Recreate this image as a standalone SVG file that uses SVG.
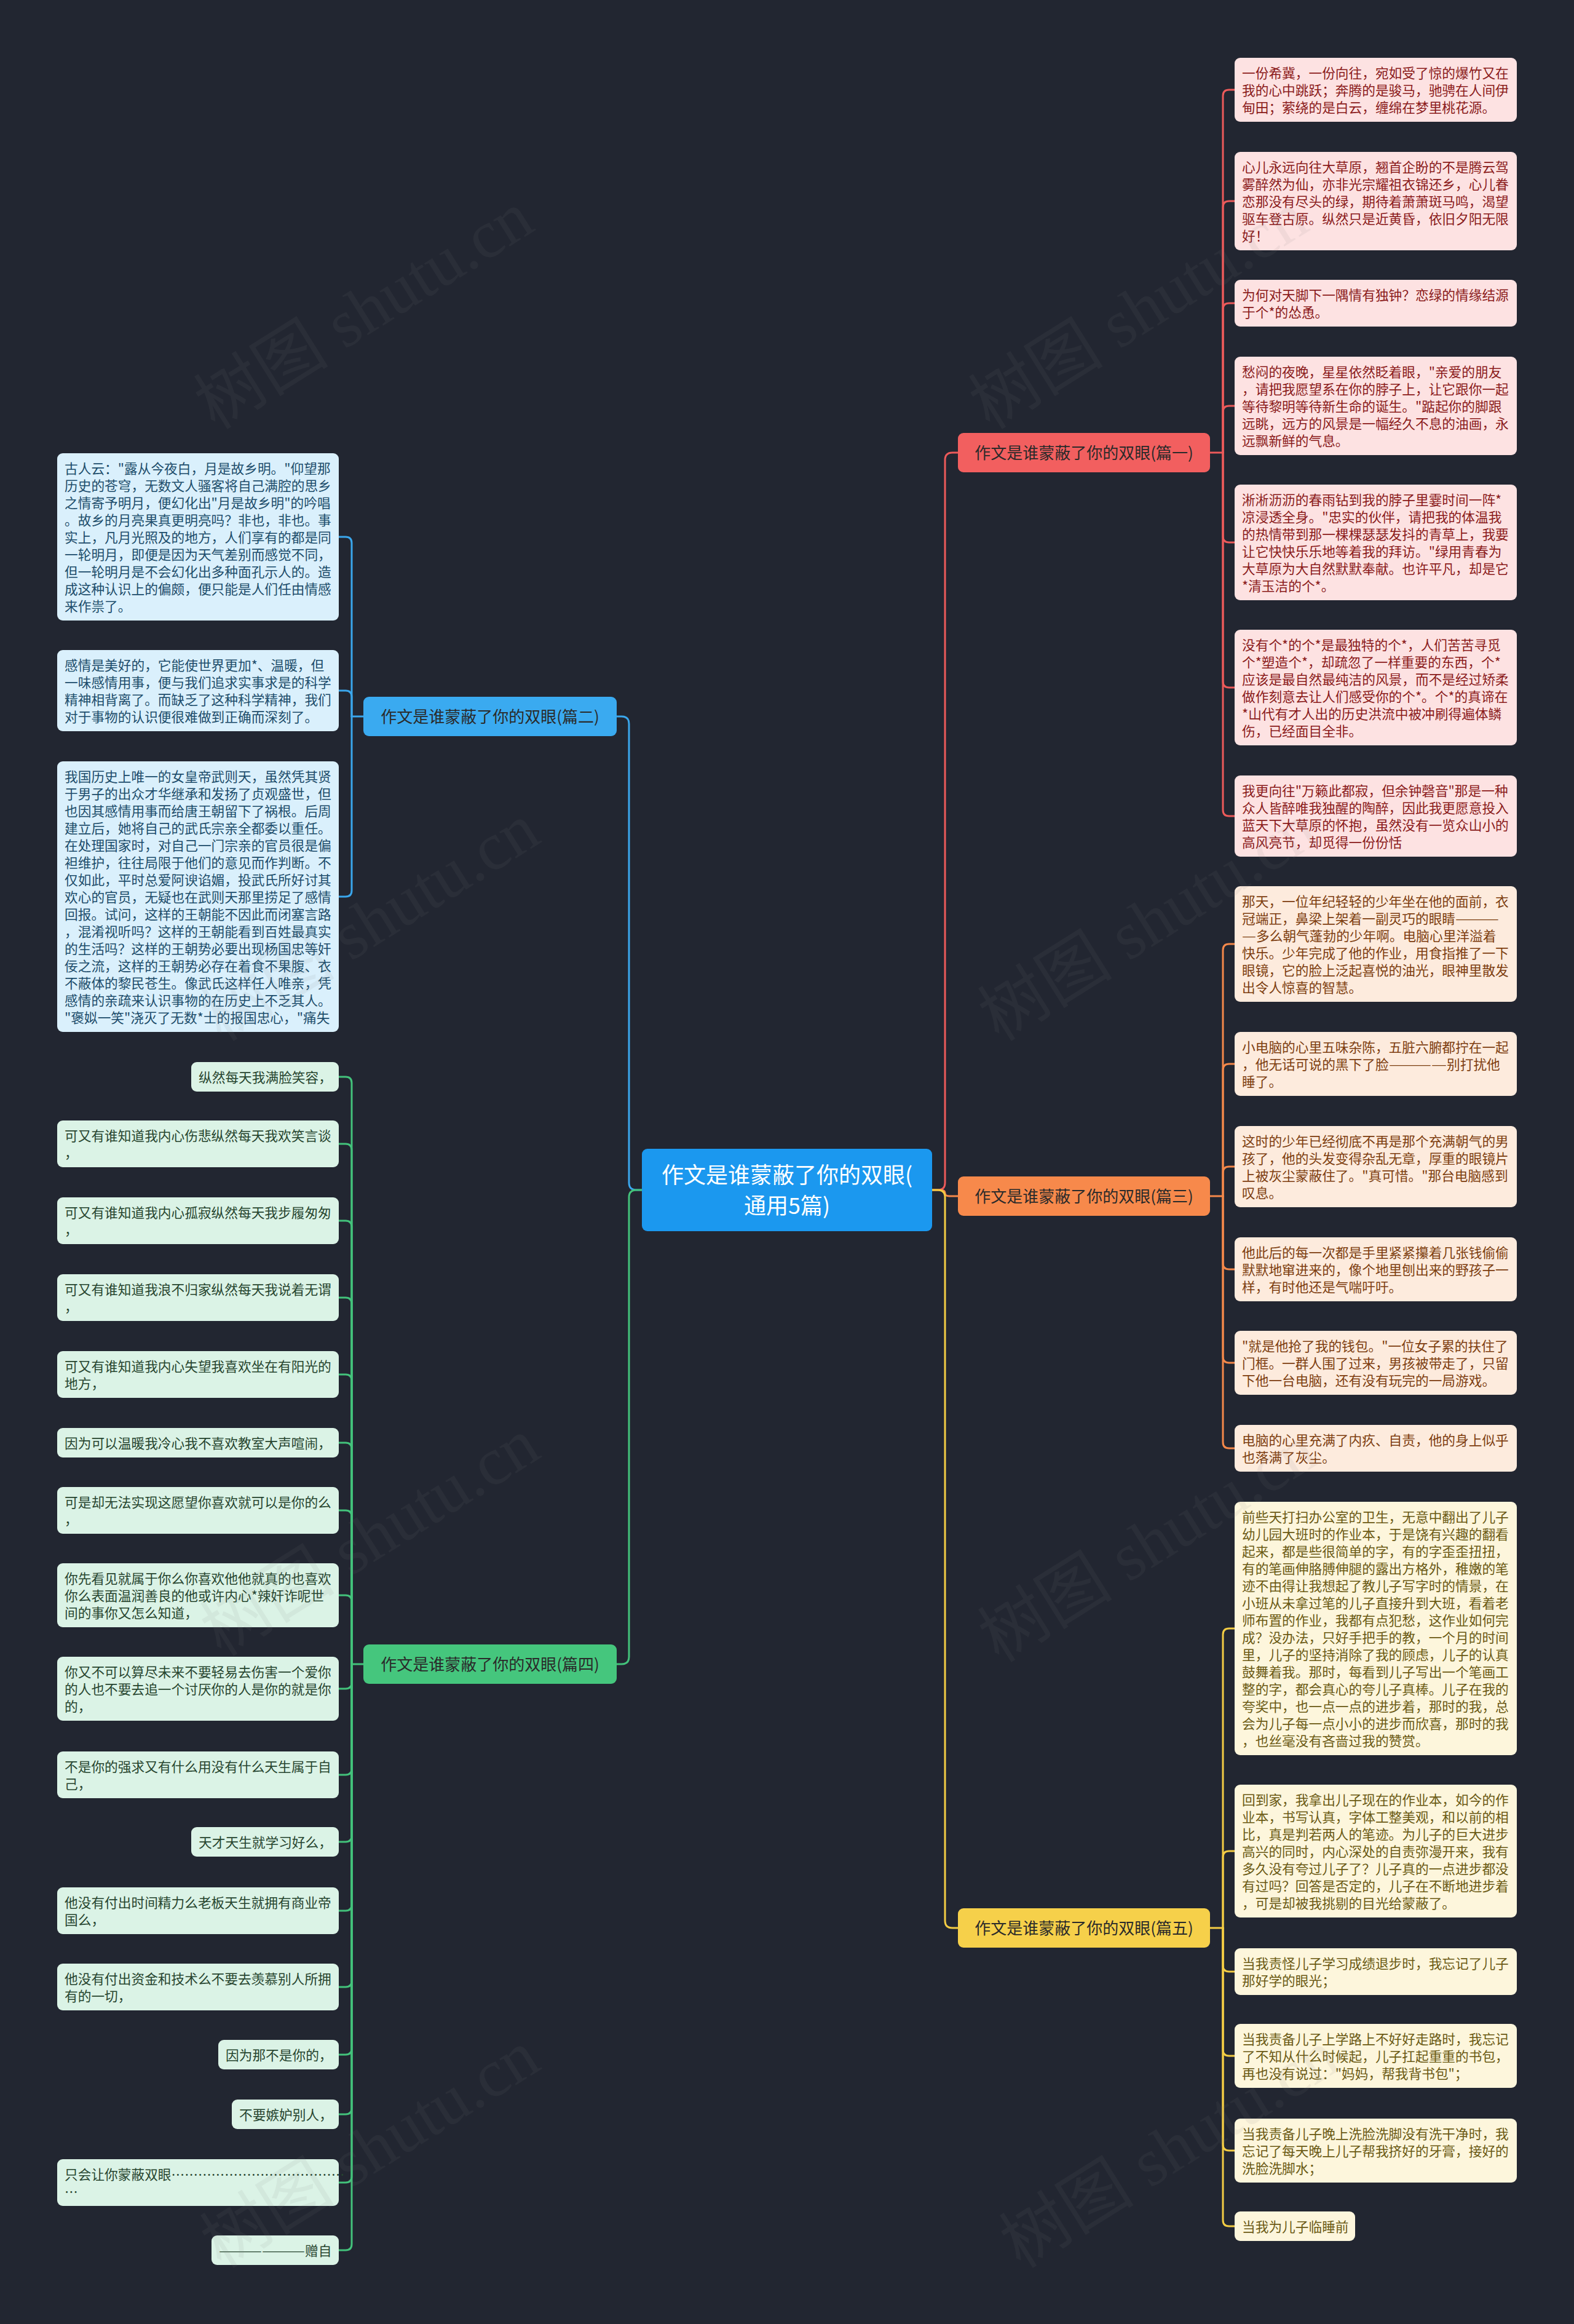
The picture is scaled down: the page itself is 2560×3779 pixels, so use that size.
<svg xmlns="http://www.w3.org/2000/svg" width="2560" height="3779" viewBox="0 0 2560 3779">
<style>
.t{font-family:"Noto Sans CJK SC","Noto Sans",sans-serif;font-size:21.7px}
.bt{font-family:"Noto Sans CJK SC","Noto Sans",sans-serif;font-size:26px;fill:#2a2a2a;text-anchor:middle}
.ct{font-family:"Noto Sans CJK SC","Noto Sans",sans-serif;font-size:36px;fill:#ffffff;text-anchor:middle}
.ln{fill:none;stroke-width:3;stroke-linecap:round}
.rl{stroke:#ec5a5a}.ol{stroke:#f4884a}.yl{stroke:#f3cc44}.bl{stroke:#3aa6ec}.gl{stroke:#43c27b}
.rb{fill:#fde2e2}.rt{fill:#8b1b1b}
.ob{fill:#fdebdd}.ot{fill:#7d3e10}
.yb{fill:#fdf6dc}.yt{fill:#6b5a14}
.bb{fill:#daf0fc}.btx{fill:#1d4d6b}
.gb{fill:#dbf3e6}.gt{fill:#27452f}
.wm{font-family:"Liberation Serif","Noto Sans CJK SC",serif;font-size:110px;fill:#808080;opacity:0.09}
</style>
<rect x="0" y="0" width="2560" height="3779" fill="#222631"/>
<g id="connectors">
<path class="ln rl" d="M1516 1935 H1525 Q1537 1935 1537 1923 V748 Q1537 736 1549 736 H1558"/>
<path class="ln ol" d="M1516 1935 H1530 Q1537 1935 1537 1940 Q1537 1945 1544 1945 H1558"/>
<path class="ln yl" d="M1516 1935 H1525 Q1537 1935 1537 1947 V3123 Q1537 3135 1549 3135 H1558"/>
<path class="ln bl" d="M1044 1935 H1035 Q1023 1935 1023 1923 V1177 Q1023 1165 1011 1165 H1003"/>
<path class="ln gl" d="M1044 1935 H1035 Q1023 1935 1023 1947 V2694 Q1023 2706 1011 2706 H1003"/>
<g class="ln rl">
<path d="M1968 736 H1989"/>
<path d="M1989 736 V156 Q1989 146 1999 146 H2008"/>
<path d="M1989 736 V337 Q1989 327 1999 327 H2008"/>
<path d="M1989 736 V503 Q1989 493 1999 493 H2008"/>
<path d="M1989 736 V670 Q1989 660 1999 660 H2008"/>
<path d="M1989 736 V872 Q1989 882 1999 882 H2008"/>
<path d="M1989 736 V1108 Q1989 1118 1999 1118 H2008"/>
<path d="M1989 736 V1317 Q1989 1327 1999 1327 H2008"/>
</g>
<g class="ln ol">
<path d="M1968 1945 H1989"/>
<path d="M1989 1945 V1545 Q1989 1535 1999 1535 H2008"/>
<path d="M1989 1945 V1740 Q1989 1730 1999 1730 H2008"/>
<path d="M1989 1945 V1907 Q1989 1897 1999 1897 H2008"/>
<path d="M1989 1945 V2054 Q1989 2064 1999 2064 H2008"/>
<path d="M1989 1945 V2206 Q1989 2216 1999 2216 H2008"/>
<path d="M1989 1945 V2345 Q1989 2355 1999 2355 H2008"/>
</g>
<g class="ln yl">
<path d="M1968 3135 H1989"/>
<path d="M1989 3135 V2658 Q1989 2648 1999 2648 H2008"/>
<path d="M1989 3135 V3020 Q1989 3010 1999 3010 H2008"/>
<path d="M1989 3135 V3196 Q1989 3206 1999 3206 H2008"/>
<path d="M1989 3135 V3333 Q1989 3343 1999 3343 H2008"/>
<path d="M1989 3135 V3487 Q1989 3497 1999 3497 H2008"/>
<path d="M1989 3135 V3610 Q1989 3620 1999 3620 H2008"/>
</g>
<g class="ln bl">
<path d="M591 1165 H572"/>
<path d="M572 1165 V883 Q572 873 562 873 H551"/>
<path d="M572 1165 V1133 Q572 1123 562 1123 H551"/>
<path d="M572 1165 V1448 Q572 1458 562 1458 H551"/>
</g>
<g class="ln gl">
<path d="M591 2706 H572"/>
<path d="M572 2706 V1761 Q572 1751 562 1751 H551"/>
<path d="M572 2706 V1870 Q572 1860 562 1860 H551"/>
<path d="M572 2706 V1995 Q572 1985 562 1985 H551"/>
<path d="M572 2706 V2120 Q572 2110 562 2110 H551"/>
<path d="M572 2706 V2245 Q572 2235 562 2235 H551"/>
<path d="M572 2706 V2356 Q572 2346 562 2346 H551"/>
<path d="M572 2706 V2466 Q572 2456 562 2456 H551"/>
<path d="M572 2706 V2604 Q572 2594 562 2594 H551"/>
<path d="M572 2706 V2736 Q572 2746 562 2746 H551"/>
<path d="M572 2706 V2876 Q572 2886 562 2886 H551"/>
<path d="M572 2706 V2985 Q572 2995 562 2995 H551"/>
<path d="M572 2706 V3097 Q572 3107 562 3107 H551"/>
<path d="M572 2706 V3221 Q572 3231 562 3231 H551"/>
<path d="M572 2706 V3331 Q572 3341 562 3341 H551"/>
<path d="M572 2706 V3428 Q572 3438 562 3438 H551"/>
<path d="M572 2706 V3539 Q572 3549 562 3549 H551"/>
<path d="M572 2706 V3649 Q572 3659 562 3659 H551"/>
</g>
</g>
<g id="center">
<rect x="1044" y="1868" width="472" height="134" rx="9" fill="#1b98ef"/>
<text class="ct" x="1280" y="1924">作文是谁蒙蔽了你的双眼(</text>
<text class="ct" x="1280" y="1974">通用5篇)</text>
</g>
<g id="branch1"><rect x="1558" y="704" width="410" height="64" rx="9" fill="#f25f5f"/><text class="bt" x="1763" y="746">作文是谁蒙蔽了你的双眼(篇一)</text></g>
<g id="branch3"><rect x="1558" y="1913" width="410" height="64" rx="9" fill="#f7894b"/><text class="bt" x="1763" y="1955">作文是谁蒙蔽了你的双眼(篇三)</text></g>
<g id="branch5"><rect x="1558" y="3103" width="410" height="64" rx="9" fill="#f6d04a"/><text class="bt" x="1763" y="3145">作文是谁蒙蔽了你的双眼(篇五)</text></g>
<g id="branch2"><rect x="591" y="1133" width="412" height="64" rx="9" fill="#3aaaf0"/><text class="bt" x="797" y="1175">作文是谁蒙蔽了你的双眼(篇二)</text></g>
<g id="branch4"><rect x="591" y="2674" width="412" height="64" rx="9" fill="#45c67d"/><text class="bt" x="797" y="2716">作文是谁蒙蔽了你的双眼(篇四)</text></g>

<g id="b1"><rect class="rb" x="2008" y="94" width="459" height="104" rx="9"/><text class="t rt" x="2020" y="127">一份希冀，一份向往，宛如受了惊的爆竹又在<tspan x="2020" dy="28">我的心中跳跃；奔腾的是骏马，驰骋在人间伊</tspan><tspan x="2020" dy="28">甸田；萦绕的是白云，缠绵在梦里桃花源。</tspan></text></g>
<g id="b2"><rect class="rb" x="2008" y="247" width="459" height="160" rx="9"/><text class="t rt" x="2020" y="280">心儿永远向往大草原，翘首企盼的不是腾云驾<tspan x="2020" dy="28">雾醉然为仙，亦非光宗耀祖衣锦还乡，心儿眷</tspan><tspan x="2020" dy="28">恋那没有尽头的绿，期待着萧萧斑马鸣，渴望</tspan><tspan x="2020" dy="28">驱车登古原。纵然只是近黄昏，依旧夕阳无限</tspan><tspan x="2020" dy="28">好！</tspan></text></g>
<g id="b3"><rect class="rb" x="2008" y="455" width="459" height="76" rx="9"/><text class="t rt" x="2020" y="488">为何对天脚下一隅情有独钟？恋绿的情缘结源<tspan x="2020" dy="28">于个*的怂恿。</tspan></text></g>
<g id="b4"><rect class="rb" x="2008" y="580" width="459" height="160" rx="9"/><text class="t rt" x="2020" y="613">愁闷的夜晚，星星依然眨着眼，"亲爱的朋友<tspan x="2020" dy="28">，请把我愿望系在你的脖子上，让它跟你一起</tspan><tspan x="2020" dy="28">等待黎明等待新生命的诞生。"踮起你的脚跟</tspan><tspan x="2020" dy="28">远眺，远方的风景是一幅经久不息的油画，永</tspan><tspan x="2020" dy="28">远飘新鲜的气息。</tspan></text></g>
<g id="b5"><rect class="rb" x="2008" y="788" width="459" height="188" rx="9"/><text class="t rt" x="2020" y="821">淅淅沥沥的春雨钻到我的脖子里霎时间一阵*<tspan x="2020" dy="28">凉浸透全身。"忠实的伙伴，请把我的体温我</tspan><tspan x="2020" dy="28">的热情带到那一棵棵瑟瑟发抖的青草上，我要</tspan><tspan x="2020" dy="28">让它快快乐乐地等着我的拜访。"绿用青春为</tspan><tspan x="2020" dy="28">大草原为大自然默默奉献。也许平凡，却是它</tspan><tspan x="2020" dy="28">*清玉洁的个*。</tspan></text></g>
<g id="b6"><rect class="rb" x="2008" y="1024" width="459" height="188" rx="9"/><text class="t rt" x="2020" y="1057">没有个*的个*是最独特的个*，人们苦苦寻觅<tspan x="2020" dy="28">个*塑造个*，却疏忽了一样重要的东西，个*</tspan><tspan x="2020" dy="28">应该是最自然最纯洁的风景，而不是经过矫柔</tspan><tspan x="2020" dy="28">做作刻意去让人们感受你的个*。个*的真谛在</tspan><tspan x="2020" dy="28">*山代有才人出的历史洪流中被冲刷得遍体鳞</tspan><tspan x="2020" dy="28">伤，已经面目全非。</tspan></text></g>
<g id="b7"><rect class="rb" x="2008" y="1261" width="459" height="132" rx="9"/><text class="t rt" x="2020" y="1294">我更向往"万籁此都寂，但余钟磬音"那是一种<tspan x="2020" dy="28">众人皆醉唯我独醒的陶醉，因此我更愿意投入</tspan><tspan x="2020" dy="28">蓝天下大草原的怀抱，虽然没有一览众山小的</tspan><tspan x="2020" dy="28">高风亮节，却觅得一份份恬</tspan></text></g>

<g id="b8"><rect class="ob" x="2008" y="1441" width="459" height="188" rx="9"/>
<text class="t ot" x="2020" y="1474">那天，一位年纪轻轻的少年坐在他的面前，衣</text>
<text class="t ot" x="2020" y="1502">冠端正，鼻梁上架着一副灵巧的眼睛</text>
<text class="t ot" x="2367" y="1502" textLength="71" lengthAdjust="spacingAndGlyphs">———</text>
<text class="t ot" x="2020" y="1530" textLength="23" lengthAdjust="spacingAndGlyphs">—</text>
<text class="t ot" x="2043" y="1530">多么朝气蓬勃的少年啊。电脑心里洋溢着</text>
<text class="t ot" x="2020" y="1558">快乐。少年完成了他的作业，用食指推了一下<tspan x="2020" dy="28">眼镜，它的脸上泛起喜悦的油光，眼神里散发</tspan><tspan x="2020" dy="28">出令人惊喜的智慧。</tspan></text></g>
<g id="b9"><rect class="ob" x="2008" y="1678" width="459" height="104" rx="9"/>
<text class="t ot" x="2020" y="1711">小电脑的心里五味杂陈，五脏六腑都拧在一起</text>
<text class="t ot" x="2020" y="1739">，他无话可说的黑下了脸</text>
<text class="t ot" x="2259" y="1739" textLength="94" lengthAdjust="spacingAndGlyphs">————</text>
<text class="t ot" x="2353" y="1739">别打扰他</text>
<text class="t ot" x="2020" y="1767">睡了。</text></g>
<g id="b10"><rect class="ob" x="2008" y="1831" width="459" height="132" rx="9"/><text class="t ot" x="2020" y="1864">这时的少年已经彻底不再是那个充满朝气的男<tspan x="2020" dy="28">孩了，他的头发变得杂乱无章，厚重的眼镜片</tspan><tspan x="2020" dy="28">上被灰尘蒙蔽住了。"真可惜。"那台电脑感到</tspan><tspan x="2020" dy="28">叹息。</tspan></text></g>
<g id="b11"><rect class="ob" x="2008" y="2012" width="459" height="104" rx="9"/><text class="t ot" x="2020" y="2045">他此后的每一次都是手里紧紧攥着几张钱偷偷<tspan x="2020" dy="28">默默地窜进来的，像个地里刨出来的野孩子一</tspan><tspan x="2020" dy="28">样，有时他还是气喘吁吁。</tspan></text></g>
<g id="b12"><rect class="ob" x="2008" y="2164" width="459" height="104" rx="9"/><text class="t ot" x="2020" y="2197">"就是他抢了我的钱包。"一位女子累的扶住了<tspan x="2020" dy="28">门框。一群人围了过来，男孩被带走了，只留</tspan><tspan x="2020" dy="28">下他一台电脑，还有没有玩完的一局游戏。</tspan></text></g>
<g id="b13"><rect class="ob" x="2008" y="2317" width="459" height="76" rx="9"/><text class="t ot" x="2020" y="2350">电脑的心里充满了内疚、自责，他的身上似乎<tspan x="2020" dy="28">也落满了灰尘。</tspan></text></g>

<g id="b14"><rect class="yb" x="2008" y="2442" width="459" height="412" rx="9"/><text class="t yt" x="2020" y="2475">前些天打扫办公室的卫生，无意中翻出了儿子<tspan x="2020" dy="28">幼儿园大班时的作业本，于是饶有兴趣的翻看</tspan><tspan x="2020" dy="28">起来，都是些很简单的字，有的字歪歪扭扭，</tspan><tspan x="2020" dy="28">有的笔画伸胳膊伸腿的露出方格外，稚嫩的笔</tspan><tspan x="2020" dy="28">迹不由得让我想起了教儿子写字时的情景，在</tspan><tspan x="2020" dy="28">小班从未拿过笔的儿子直接升到大班，看着老</tspan><tspan x="2020" dy="28">师布置的作业，我都有点犯愁，这作业如何完</tspan><tspan x="2020" dy="28">成？没办法，只好手把手的教，一个月的时间</tspan><tspan x="2020" dy="28">里，儿子的坚持消除了我的顾虑，儿子的认真</tspan><tspan x="2020" dy="28">鼓舞着我。那时，每看到儿子写出一个笔画工</tspan><tspan x="2020" dy="28">整的字，都会真心的夸儿子真棒。儿子在我的</tspan><tspan x="2020" dy="28">夸奖中，也一点一点的进步着，那时的我，总</tspan><tspan x="2020" dy="28">会为儿子每一点小小的进步而欣喜，那时的我</tspan><tspan x="2020" dy="28">，也丝毫没有吝啬过我的赞赏。</tspan></text></g>
<g id="b15"><rect class="yb" x="2008" y="2902" width="459" height="216" rx="9"/><text class="t yt" x="2020" y="2935">回到家，我拿出儿子现在的作业本，如今的作<tspan x="2020" dy="28">业本，书写认真，字体工整美观，和以前的相</tspan><tspan x="2020" dy="28">比，真是判若两人的笔迹。为儿子的巨大进步</tspan><tspan x="2020" dy="28">高兴的同时，内心深处的自责弥漫开来，我有</tspan><tspan x="2020" dy="28">多久没有夸过儿子了？儿子真的一点进步都没</tspan><tspan x="2020" dy="28">有过吗？回答是否定的，儿子在不断地进步着</tspan><tspan x="2020" dy="28">，可是却被我挑剔的目光给蒙蔽了。</tspan></text></g>
<g id="b16"><rect class="yb" x="2008" y="3168" width="459" height="76" rx="9"/><text class="t yt" x="2020" y="3201">当我责怪儿子学习成绩退步时，我忘记了儿子<tspan x="2020" dy="28">那好学的眼光；</tspan></text></g>
<g id="b17"><rect class="yb" x="2008" y="3291" width="459" height="104" rx="9"/><text class="t yt" x="2020" y="3324">当我责备儿子上学路上不好好走路时，我忘记<tspan x="2020" dy="28">了不知从什么时候起，儿子扛起重重的书包，</tspan><tspan x="2020" dy="28">再也没有说过："妈妈，帮我背书包"；</tspan></text></g>
<g id="b18"><rect class="yb" x="2008" y="3445" width="459" height="104" rx="9"/><text class="t yt" x="2020" y="3478">当我责备儿子晚上洗脸洗脚没有洗干净时，我<tspan x="2020" dy="28">忘记了每天晚上儿子帮我挤好的牙膏，接好的</tspan><tspan x="2020" dy="28">洗脸洗脚水；</tspan></text></g>
<g id="b19"><rect class="yb" x="2008" y="3596" width="196" height="48" rx="9"/><text class="t yt" x="2020" y="3629">当我为儿子临睡前</text></g>

<g id="l1"><rect class="bb" x="93" y="737" width="458" height="272" rx="9"/><text class="t btx" x="105" y="770">古人云："露从今夜白，月是故乡明。"仰望那<tspan x="105" dy="28">历史的苍穹，无数文人骚客将自己满腔的思乡</tspan><tspan x="105" dy="28">之情寄予明月，便幻化出"月是故乡明"的吟唱</tspan><tspan x="105" dy="28">。故乡的月亮果真更明亮吗？非也，非也。事</tspan><tspan x="105" dy="28">实上，凡月光照及的地方，人们享有的都是同</tspan><tspan x="105" dy="28">一轮明月，即便是因为天气差别而感觉不同，</tspan><tspan x="105" dy="28">但一轮明月是不会幻化出多种面孔示人的。造</tspan><tspan x="105" dy="28">成这种认识上的偏颇，便只能是人们任由情感</tspan><tspan x="105" dy="28">来作祟了。</tspan></text></g>
<g id="l2"><rect class="bb" x="93" y="1057" width="458" height="132" rx="9"/><text class="t btx" x="105" y="1090">感情是美好的，它能使世界更加*、温暖，但<tspan x="105" dy="28">一味感情用事，便与我们追求实事求是的科学</tspan><tspan x="105" dy="28">精神相背离了。而缺乏了这种科学精神，我们</tspan><tspan x="105" dy="28">对于事物的认识便很难做到正确而深刻了。</tspan></text></g>
<g id="l3"><rect class="bb" x="93" y="1238" width="458" height="440" rx="9"/><text class="t btx" x="105" y="1271">我国历史上唯一的女皇帝武则天，虽然凭其贤<tspan x="105" dy="28">于男子的出众才华继承和发扬了贞观盛世，但</tspan><tspan x="105" dy="28">也因其感情用事而给唐王朝留下了祸根。后周</tspan><tspan x="105" dy="28">建立后，她将自己的武氏宗亲全都委以重任。</tspan><tspan x="105" dy="28">在处理国家时，对自己一门宗亲的官员很是偏</tspan><tspan x="105" dy="28">袒维护，往往局限于他们的意见而作判断。不</tspan><tspan x="105" dy="28">仅如此，平时总爱阿谀谄媚，投武氏所好讨其</tspan><tspan x="105" dy="28">欢心的官员，无疑也在武则天那里捞足了感情</tspan><tspan x="105" dy="28">回报。试问，这样的王朝能不因此而闭塞言路</tspan><tspan x="105" dy="28">，混淆视听吗？这样的王朝能看到百姓最真实</tspan><tspan x="105" dy="28">的生活吗？这样的王朝势必要出现杨国忠等奸</tspan><tspan x="105" dy="28">佞之流，这样的王朝势必存在着食不果腹、衣</tspan><tspan x="105" dy="28">不蔽体的黎民苍生。像武氏这样任人唯亲，凭</tspan><tspan x="105" dy="28">感情的亲疏来认识事物的在历史上不乏其人。</tspan><tspan x="105" dy="28">"褒姒一笑"浇灭了无数*士的报国忠心，"痛失</tspan></text></g>

<g id="g1"><rect class="gb" x="311" y="1727" width="240" height="48" rx="9"/><text class="t gt" x="323" y="1760">纵然每天我满脸笑容，</text></g>
<g id="g2"><rect class="gb" x="93" y="1822" width="458" height="76" rx="9"/><text class="t gt" x="105" y="1855">可又有谁知道我内心伤悲纵然每天我欢笑言谈<tspan x="105" dy="28">，</tspan></text></g>
<g id="g3"><rect class="gb" x="93" y="1947" width="458" height="76" rx="9"/><text class="t gt" x="105" y="1980">可又有谁知道我内心孤寂纵然每天我步履匆匆<tspan x="105" dy="28">，</tspan></text></g>
<g id="g4"><rect class="gb" x="93" y="2072" width="458" height="76" rx="9"/><text class="t gt" x="105" y="2105">可又有谁知道我浪不归家纵然每天我说着无谓<tspan x="105" dy="28">，</tspan></text></g>
<g id="g5"><rect class="gb" x="93" y="2197" width="458" height="76" rx="9"/><text class="t gt" x="105" y="2230">可又有谁知道我内心失望我喜欢坐在有阳光的<tspan x="105" dy="28">地方，</tspan></text></g>
<g id="g6"><rect class="gb" x="93" y="2322" width="458" height="48" rx="9"/><text class="t gt" x="105" y="2355">因为可以温暖我冷心我不喜欢教室大声喧闹，</text></g>
<g id="g7"><rect class="gb" x="93" y="2418" width="458" height="76" rx="9"/><text class="t gt" x="105" y="2451">可是却无法实现这愿望你喜欢就可以是你的么<tspan x="105" dy="28">，</tspan></text></g>
<g id="g8"><rect class="gb" x="93" y="2542" width="458" height="104" rx="9"/><text class="t gt" x="105" y="2575">你先看见就属于你么你喜欢他他就真的也喜欢<tspan x="105" dy="28">你么表面温润善良的他或许内心*辣奸诈呢世</tspan><tspan x="105" dy="28">间的事你又怎么知道，</tspan></text></g>
<g id="g9"><rect class="gb" x="93" y="2694" width="458" height="104" rx="9"/><text class="t gt" x="105" y="2727">你又不可以算尽未来不要轻易去伤害一个爱你<tspan x="105" dy="28">的人也不要去追一个讨厌你的人是你的就是你</tspan><tspan x="105" dy="28">的，</tspan></text></g>
<g id="g10"><rect class="gb" x="93" y="2848" width="458" height="76" rx="9"/><text class="t gt" x="105" y="2881">不是你的强求又有什么用没有什么天生属于自<tspan x="105" dy="28">己，</tspan></text></g>
<g id="g11"><rect class="gb" x="311" y="2971" width="240" height="48" rx="9"/><text class="t gt" x="323" y="3004">天才天生就学习好么，</text></g>
<g id="g12"><rect class="gb" x="93" y="3069" width="458" height="76" rx="9"/><text class="t gt" x="105" y="3102">他没有付出时间精力么老板天生就拥有商业帝<tspan x="105" dy="28">国么，</tspan></text></g>
<g id="g13"><rect class="gb" x="93" y="3193" width="458" height="76" rx="9"/><text class="t gt" x="105" y="3226">他没有付出资金和技术么不要去羡慕别人所拥<tspan x="105" dy="28">有的一切，</tspan></text></g>
<g id="g14"><rect class="gb" x="355" y="3317" width="196" height="48" rx="9"/><text class="t gt" x="367" y="3350">因为那不是你的，</text></g>
<g id="g15"><rect class="gb" x="377" y="3414" width="174" height="48" rx="9"/><text class="t gt" x="389" y="3447">不要嫉妒别人，</text></g>
<g id="g16"><rect class="gb" x="93" y="3511" width="458" height="76" rx="9"/><text class="t gt" x="105" y="3544">只会让你蒙蔽双眼…………………………………<tspan x="105" dy="28">…</tspan></text></g>
<g id="g17"><rect class="gb" x="344" y="3635" width="207" height="48" rx="9"/>
<text class="t gt" x="356" y="3668" textLength="140" lengthAdjust="spacingAndGlyphs">——————</text>
<text class="t gt" x="496" y="3668">赠自</text></g>

<g id="watermark">
<text class="wm" transform="translate(350 700) rotate(-32)">树图 shutu.cn</text>
<text class="wm" transform="translate(1610 700) rotate(-32)">树图 shutu.cn</text>
<text class="wm" transform="translate(360 1695) rotate(-32)">树图 shutu.cn</text>
<text class="wm" transform="translate(1625 1695) rotate(-32)">树图 shutu.cn</text>
<text class="wm" transform="translate(360 2695) rotate(-32)">树图 shutu.cn</text>
<text class="wm" transform="translate(1625 2705) rotate(-32)">树图 shutu.cn</text>
<text class="wm" transform="translate(360 3690) rotate(-32)">树图 shutu.cn</text>
<text class="wm" transform="translate(1660 3690) rotate(-32)">树图 shutu.cn</text>
</g>
</svg>
